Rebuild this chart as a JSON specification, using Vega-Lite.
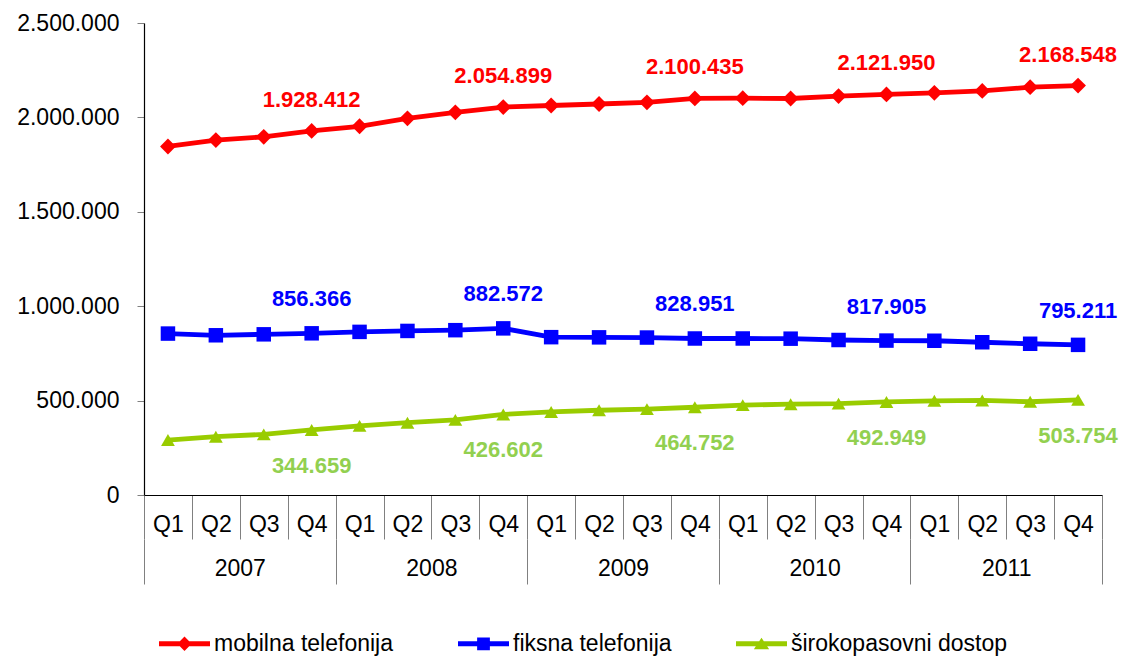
{
  "$schema": "https://vega.github.io/schema/vega-lite/v6.json",
  "width": 958,
  "height": 472,
  "autosize": {"type": "none"},
  "padding": {"left": 144, "top": 23, "right": 20, "bottom": 162},
  "background": "white",
  "config": {
    "locale": {"number": {"decimal": ",", "thousands": ".", "grouping": [3], "currency": ["", " €"]}},
    "view": {"stroke": null},
    "font": "Liberation Sans",
    "axis": {"labelFont": "Liberation Sans", "labelColor": "#000000", "labelFontSize": 23, "title": null, "grid": false}
  },
  "data": {
    "values": [
      {"period": "2007-Q1", "year": "2007", "q": "Q1", "series": "mobilna telefonija", "value": 1846000},
      {"period": "2007-Q2", "year": "2007", "q": "Q2", "series": "mobilna telefonija", "value": 1880000},
      {"period": "2007-Q3", "year": "2007", "q": "Q3", "series": "mobilna telefonija", "value": 1897000},
      {"period": "2007-Q4", "year": "2007", "q": "Q4", "series": "mobilna telefonija", "value": 1928412},
      {"period": "2008-Q1", "year": "2008", "q": "Q1", "series": "mobilna telefonija", "value": 1953000},
      {"period": "2008-Q2", "year": "2008", "q": "Q2", "series": "mobilna telefonija", "value": 1995000},
      {"period": "2008-Q3", "year": "2008", "q": "Q3", "series": "mobilna telefonija", "value": 2027000},
      {"period": "2008-Q4", "year": "2008", "q": "Q4", "series": "mobilna telefonija", "value": 2054899},
      {"period": "2009-Q1", "year": "2009", "q": "Q1", "series": "mobilna telefonija", "value": 2063000},
      {"period": "2009-Q2", "year": "2009", "q": "Q2", "series": "mobilna telefonija", "value": 2071000},
      {"period": "2009-Q3", "year": "2009", "q": "Q3", "series": "mobilna telefonija", "value": 2080000},
      {"period": "2009-Q4", "year": "2009", "q": "Q4", "series": "mobilna telefonija", "value": 2100435},
      {"period": "2010-Q1", "year": "2010", "q": "Q1", "series": "mobilna telefonija", "value": 2102000},
      {"period": "2010-Q2", "year": "2010", "q": "Q2", "series": "mobilna telefonija", "value": 2100000},
      {"period": "2010-Q3", "year": "2010", "q": "Q3", "series": "mobilna telefonija", "value": 2113000},
      {"period": "2010-Q4", "year": "2010", "q": "Q4", "series": "mobilna telefonija", "value": 2121950},
      {"period": "2011-Q1", "year": "2011", "q": "Q1", "series": "mobilna telefonija", "value": 2130000},
      {"period": "2011-Q2", "year": "2011", "q": "Q2", "series": "mobilna telefonija", "value": 2140000},
      {"period": "2011-Q3", "year": "2011", "q": "Q3", "series": "mobilna telefonija", "value": 2160000},
      {"period": "2011-Q4", "year": "2011", "q": "Q4", "series": "mobilna telefonija", "value": 2168548},
      {"period": "2007-Q1", "year": "2007", "q": "Q1", "series": "fiksna telefonija", "value": 855000},
      {"period": "2007-Q2", "year": "2007", "q": "Q2", "series": "fiksna telefonija", "value": 846000},
      {"period": "2007-Q3", "year": "2007", "q": "Q3", "series": "fiksna telefonija", "value": 851000},
      {"period": "2007-Q4", "year": "2007", "q": "Q4", "series": "fiksna telefonija", "value": 856366},
      {"period": "2008-Q1", "year": "2008", "q": "Q1", "series": "fiksna telefonija", "value": 864000},
      {"period": "2008-Q2", "year": "2008", "q": "Q2", "series": "fiksna telefonija", "value": 869000},
      {"period": "2008-Q3", "year": "2008", "q": "Q3", "series": "fiksna telefonija", "value": 873000},
      {"period": "2008-Q4", "year": "2008", "q": "Q4", "series": "fiksna telefonija", "value": 882572},
      {"period": "2009-Q1", "year": "2009", "q": "Q1", "series": "fiksna telefonija", "value": 836000},
      {"period": "2009-Q2", "year": "2009", "q": "Q2", "series": "fiksna telefonija", "value": 835000},
      {"period": "2009-Q3", "year": "2009", "q": "Q3", "series": "fiksna telefonija", "value": 834000},
      {"period": "2009-Q4", "year": "2009", "q": "Q4", "series": "fiksna telefonija", "value": 828951},
      {"period": "2010-Q1", "year": "2010", "q": "Q1", "series": "fiksna telefonija", "value": 829000},
      {"period": "2010-Q2", "year": "2010", "q": "Q2", "series": "fiksna telefonija", "value": 828000},
      {"period": "2010-Q3", "year": "2010", "q": "Q3", "series": "fiksna telefonija", "value": 821000},
      {"period": "2010-Q4", "year": "2010", "q": "Q4", "series": "fiksna telefonija", "value": 817905},
      {"period": "2011-Q1", "year": "2011", "q": "Q1", "series": "fiksna telefonija", "value": 817000},
      {"period": "2011-Q2", "year": "2011", "q": "Q2", "series": "fiksna telefonija", "value": 809000},
      {"period": "2011-Q3", "year": "2011", "q": "Q3", "series": "fiksna telefonija", "value": 801000},
      {"period": "2011-Q4", "year": "2011", "q": "Q4", "series": "fiksna telefonija", "value": 795211},
      {"period": "2007-Q1", "year": "2007", "q": "Q1", "series": "širokopasovni dostop", "value": 291000},
      {"period": "2007-Q2", "year": "2007", "q": "Q2", "series": "širokopasovni dostop", "value": 309000},
      {"period": "2007-Q3", "year": "2007", "q": "Q3", "series": "širokopasovni dostop", "value": 321000},
      {"period": "2007-Q4", "year": "2007", "q": "Q4", "series": "širokopasovni dostop", "value": 344659},
      {"period": "2008-Q1", "year": "2008", "q": "Q1", "series": "širokopasovni dostop", "value": 366000},
      {"period": "2008-Q2", "year": "2008", "q": "Q2", "series": "širokopasovni dostop", "value": 383000},
      {"period": "2008-Q3", "year": "2008", "q": "Q3", "series": "širokopasovni dostop", "value": 398000},
      {"period": "2008-Q4", "year": "2008", "q": "Q4", "series": "širokopasovni dostop", "value": 426602},
      {"period": "2009-Q1", "year": "2009", "q": "Q1", "series": "širokopasovni dostop", "value": 440000},
      {"period": "2009-Q2", "year": "2009", "q": "Q2", "series": "širokopasovni dostop", "value": 449000},
      {"period": "2009-Q3", "year": "2009", "q": "Q3", "series": "širokopasovni dostop", "value": 455000},
      {"period": "2009-Q4", "year": "2009", "q": "Q4", "series": "širokopasovni dostop", "value": 464752},
      {"period": "2010-Q1", "year": "2010", "q": "Q1", "series": "širokopasovni dostop", "value": 476000},
      {"period": "2010-Q2", "year": "2010", "q": "Q2", "series": "širokopasovni dostop", "value": 481000},
      {"period": "2010-Q3", "year": "2010", "q": "Q3", "series": "širokopasovni dostop", "value": 484000},
      {"period": "2010-Q4", "year": "2010", "q": "Q4", "series": "širokopasovni dostop", "value": 492949},
      {"period": "2011-Q1", "year": "2011", "q": "Q1", "series": "širokopasovni dostop", "value": 499000},
      {"period": "2011-Q2", "year": "2011", "q": "Q2", "series": "širokopasovni dostop", "value": 501000},
      {"period": "2011-Q3", "year": "2011", "q": "Q3", "series": "širokopasovni dostop", "value": 494000},
      {"period": "2011-Q4", "year": "2011", "q": "Q4", "series": "širokopasovni dostop", "value": 503754}
    ]
  },
  "layer": [
    {
      "encoding": {
        "x": {
          "field": "period", "type": "ordinal", "sort": null,
          "scale": {"type": "band", "paddingInner": 0, "paddingOuter": 0},
          "axis": {
            "orient": "bottom", "labelExpr": "substring(datum.label, 5)",
            "tickBand": "extent", "tickSize": 44, "tickColor": "#808080", "tickWidth": 1,
            "domainColor": "#000000", "domainWidth": 1.2,
            "labelPadding": -15, "labelBaseline": "middle", "labelAngle": 0,
            "labelOverlap": false, "labelFontSize": 23
          }
        },
        "y": {
          "field": "value", "type": "quantitative",
          "scale": {"domain": [0, 2500000], "nice": false, "zero": true},
          "axis": {
            "values": [0, 500000, 1000000, 1500000, 2000000, 2500000],
            "format": ",d", "tickSize": 7, "tickColor": "#808080",
            "domainColor": "#000000", "domainWidth": 1.2,
            "labelPadding": 18, "labelFontSize": 23, "labelOverlap": false
          }
        }
      },
      "layer": [
        {
          "transform": [{"filter": "datum.series === 'mobilna telefonija'"}],
          "mark": {"type": "line", "strokeWidth": 4.8, "color": "#ff0000"},
          "encoding": {}
        },
        {
          "transform": [{"filter": "datum.series === 'fiksna telefonija'"}],
          "mark": {"type": "line", "strokeWidth": 4.8, "color": "#0000ff"},
          "encoding": {}
        },
        {
          "transform": [{"filter": "datum.series === 'širokopasovni dostop'"}],
          "mark": {"type": "line", "strokeWidth": 4.8, "color": "#99cc00"},
          "encoding": {}
        },
        {
          "transform": [{"filter": "datum.series === 'mobilna telefonija'"}],
          "mark": {"type": "point", "shape": "diamond", "filled": true, "size": 250, "color": "#ff0000", "opacity": 1}
        },
        {
          "transform": [{"filter": "datum.series === 'fiksna telefonija'"}],
          "mark": {"type": "point", "shape": "square", "filled": true, "size": 210, "color": "#0000ff", "opacity": 1}
        },
        {
          "transform": [{"filter": "datum.series === 'širokopasovni dostop'"}],
          "mark": {"type": "point", "shape": "triangle-up", "filled": true, "size": 190, "color": "#99cc00", "opacity": 1}
        },
        {
          "transform": [{"filter": "datum.series === 'mobilna telefonija' && datum.q === 'Q4' && datum.year !== '2011'"}],
          "mark": {"type": "text", "font": "Liberation Sans", "fontWeight": "bold", "fontSize": 22, "dy": -31, "baseline": "middle", "align": "center", "color": "#ff0000"},
          "encoding": {"text": {"field": "value", "type": "quantitative", "format": ",d"}}
        },
        {
          "transform": [{"filter": "datum.series === 'mobilna telefonija' && datum.q === 'Q4' && datum.year === '2011'"}],
          "mark": {"type": "text", "font": "Liberation Sans", "fontWeight": "bold", "fontSize": 22, "dy": -31, "dx": -10, "baseline": "middle", "align": "center", "color": "#ff0000"},
          "encoding": {"text": {"field": "value", "type": "quantitative", "format": ",d"}}
        },
        {
          "transform": [{"filter": "datum.series === 'fiksna telefonija' && datum.q === 'Q4'"}],
          "mark": {"type": "text", "font": "Liberation Sans", "fontWeight": "bold", "fontSize": 22, "dy": -34, "baseline": "middle", "align": "center", "color": "#0000ff"},
          "encoding": {"text": {"field": "value", "type": "quantitative", "format": ",d"}}
        },
        {
          "transform": [{"filter": "datum.series === 'širokopasovni dostop' && datum.q === 'Q4'"}],
          "mark": {"type": "text", "font": "Liberation Sans", "fontWeight": "bold", "fontSize": 22, "dy": 36, "baseline": "middle", "align": "center", "color": "#92d050"},
          "encoding": {"text": {"field": "value", "type": "quantitative", "format": ",d"}}
        },
        {
          "mark": {"type": "point", "filled": true, "opacity": 0, "size": 10},
          "encoding": {
            "color": {
              "field": "series", "type": "nominal",
              "scale": {"domain": ["mobilna telefonija", "fiksna telefonija", "širokopasovni dostop"], "range": ["#ff0000", "#0000ff", "#99cc00"]},
              "legend": {
                "title": null, "orient": "none", "legendX": 15, "legendY": 595, "direction": "horizontal", "columns": 3,
                "symbolSize": 2601, "symbolStrokeWidth": 0, "symbolOpacity": 1, "labelFont": "Liberation Sans", "labelFontSize": 23, "labelColor": "#000000",
                "labelOffset": 4, "columnPadding": 64, "padding": 0, "labelLimit": 400
              }
            },
            "shape": {
              "field": "series", "type": "nominal",
              "scale": {
                "domain": ["mobilna telefonija", "fiksna telefonija", "širokopasovni dostop"],
                "range": [
                  "M-1,-0.095H1V0.095H-1Z M0,-0.28L0.28,0L0,0.28L-0.28,0Z",
                  "M-1,-0.095H1V0.095H-1Z M-0.25,-0.25H0.25V0.25H-0.25Z",
                  "M-1,-0.095H1V0.095H-1Z M0,-0.24L0.3,0.22L-0.3,0.22Z"
                ]
              },
              "legend": {
                "title": null, "orient": "none", "legendX": 15, "legendY": 595, "direction": "horizontal", "columns": 3,
                "symbolSize": 2601, "symbolStrokeWidth": 0, "symbolOpacity": 1, "labelFont": "Liberation Sans", "labelFontSize": 23, "labelColor": "#000000",
                "labelOffset": 4, "columnPadding": 64, "padding": 0, "labelLimit": 400
              }
            }
          }
        }
      ]
    },
    {
      "mark": {"type": "point", "opacity": 0},
      "encoding": {
        "x": {
          "field": "year", "type": "ordinal", "sort": null,
          "scale": {"type": "band", "paddingInner": 0, "paddingOuter": 0},
          "axis": {
            "orient": "bottom", "offset": 44, "domain": false,
            "tickBand": "extent", "tickSize": 45, "tickColor": "#808080", "tickWidth": 1,
            "labelPadding": -16, "labelBaseline": "middle", "labelAngle": 0,
            "labelOverlap": false, "labelFontSize": 23
          }
        }
      }
    }
  ],
  "resolve": {"scale": {"x": "independent"}}
}
